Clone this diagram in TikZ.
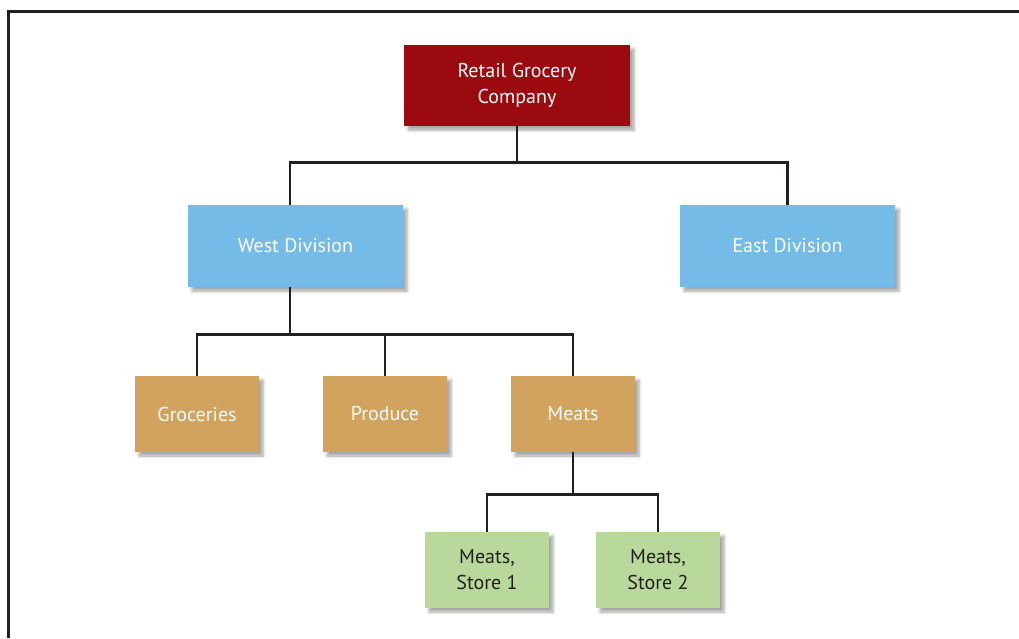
\documentclass[tikz,border=0pt]{standalone}
\usepackage{fontspec}
\setmainfont{PT Sans}
\usetikzlibrary{shadows.blur}

\definecolor{corpred}{HTML}{9B0A0F}
\definecolor{divblue}{HTML}{74BCE7}
\definecolor{depttan}{HTML}{D2A35E}
\definecolor{storegreen}{HTML}{B8D99B}
\definecolor{inkline}{HTML}{231F20}

\begin{document}
\begin{tikzpicture}[x=1pt,y=-1pt,
  unit/.style={rectangle, inner sep=0pt, align=center, font=\fontsize{20}{26}\selectfont,
    blur shadow={shadow xshift=4pt, shadow yshift=-4pt, shadow blur radius=3pt, shadow opacity=35}},
  corp/.style={unit, fill=corpred, text=white, minimum width=226pt, minimum height=81pt},
  division/.style={unit, fill=divblue, text=white, minimum width=215pt, minimum height=82pt},
  dept/.style={unit, fill=depttan, text=white, minimum width=124pt, minimum height=76pt},
  store/.style={unit, fill=storegreen, text=inkline, minimum width=124pt, minimum height=76pt},
  link/.style={draw=inkline, line width=2.6pt}]
\useasboundingbox (0,0) rectangle (1019,638);
\draw[inkline, line width=3pt] (8,638) -- (8,11) -- (1019,11);

\node[corp] (company) at (517,85.5) {Retail Grocery\\Company};

\node[division] (west) at (295.5,246) {West Division};
\node[division] (east) at (787.5,246) {East Division};

\node[dept] (groceries) at (197,414) {Groceries};
\node[dept] (produce) at (385,414) {Produce};
\node[dept] (meats) at (573,414) {Meats};

\node[store] (store1) at (487,570) {Meats,\\Store 1};
\node[store] (store2) at (658,570) {Meats,\\Store 2};

\path[link] (company.south) -- ++(0,36) -| ([xshift=-5.5pt]west.north);
\path[link] (company.south) -- ++(0,36) -| (east.north);
\path[link] ([xshift=-5.5pt]west.south) -- ++(0,47) -| (groceries.north);
\path[link] ([xshift=-5.5pt]west.south) -- ++(0,47) -| (produce.north);
\path[link] ([xshift=-5.5pt]west.south) -- ++(0,47) -| (meats.north);
\path[link] (meats.south) -- ++(0,42) -| (store1.north);
\path[link] (meats.south) -- ++(0,42) -| (store2.north);
\end{tikzpicture}
\end{document}
